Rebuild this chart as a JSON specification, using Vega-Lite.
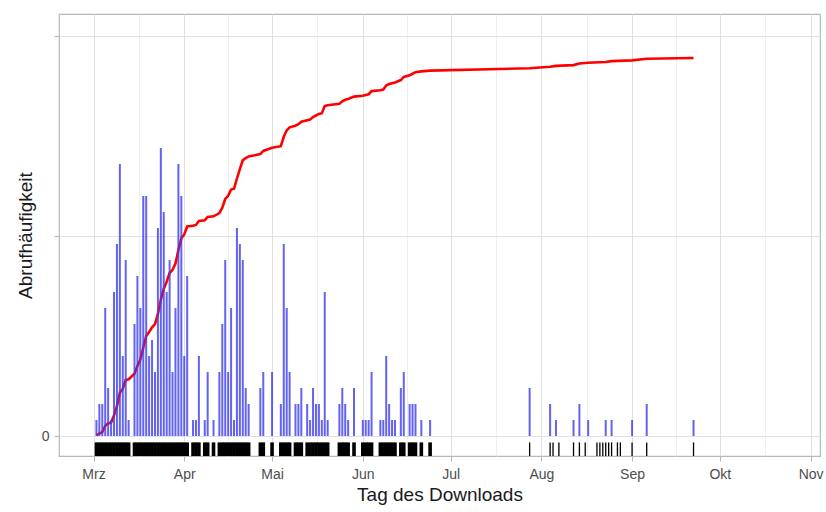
{
  "$schema": "https://vega.github.io/schema/vega-lite/v6.json",
  "width": 761,
  "height": 442,
  "autosize": {"type": "none"},
  "padding": {"left": 59, "top": 14, "right": 6, "bottom": 56},
  "background": "white",
  "config": {
    "font": "Liberation Sans",
    "view": {"stroke": "#b8b8b8", "strokeWidth": 1.2},
    "axis": {
      "labelFont": "Liberation Sans",
      "titleFont": "Liberation Sans",
      "labelColor": "#4d4d4d",
      "titleColor": "#1a1a1a",
      "titleFontWeight": "normal",
      "labelFontSize": 14,
      "titleFontSize": 19,
      "tickColor": "#b3b3b3",
      "tickSize": 5,
      "domain": false,
      "gridColor": "#e0e0e0",
      "gridWidth": 1
    }
  },
  "datasets": {
    "abrufe": [
      {"tag": "2020-03-02", "anzahl": 1}, {"tag": "2020-03-03", "anzahl": 2}, {"tag": "2020-03-04", "anzahl": 2},
      {"tag": "2020-03-05", "anzahl": 8}, {"tag": "2020-03-06", "anzahl": 3}, {"tag": "2020-03-07", "anzahl": 1},
      {"tag": "2020-03-08", "anzahl": 9}, {"tag": "2020-03-09", "anzahl": 12}, {"tag": "2020-03-10", "anzahl": 17},
      {"tag": "2020-03-11", "anzahl": 5}, {"tag": "2020-03-12", "anzahl": 11}, {"tag": "2020-03-13", "anzahl": 1},
      {"tag": "2020-03-15", "anzahl": 7}, {"tag": "2020-03-16", "anzahl": 10}, {"tag": "2020-03-17", "anzahl": 8},
      {"tag": "2020-03-18", "anzahl": 15}, {"tag": "2020-03-19", "anzahl": 15}, {"tag": "2020-03-20", "anzahl": 5},
      {"tag": "2020-03-21", "anzahl": 6}, {"tag": "2020-03-22", "anzahl": 4}, {"tag": "2020-03-23", "anzahl": 13},
      {"tag": "2020-03-24", "anzahl": 18}, {"tag": "2020-03-25", "anzahl": 14}, {"tag": "2020-03-26", "anzahl": 9},
      {"tag": "2020-03-27", "anzahl": 11}, {"tag": "2020-03-28", "anzahl": 4}, {"tag": "2020-03-29", "anzahl": 8},
      {"tag": "2020-03-30", "anzahl": 17}, {"tag": "2020-03-31", "anzahl": 15},
      {"tag": "2020-04-01", "anzahl": 5}, {"tag": "2020-04-02", "anzahl": 10}, {"tag": "2020-04-04", "anzahl": 1},
      {"tag": "2020-04-05", "anzahl": 1}, {"tag": "2020-04-06", "anzahl": 5}, {"tag": "2020-04-08", "anzahl": 1},
      {"tag": "2020-04-09", "anzahl": 4}, {"tag": "2020-04-11", "anzahl": 1}, {"tag": "2020-04-13", "anzahl": 4},
      {"tag": "2020-04-14", "anzahl": 7}, {"tag": "2020-04-15", "anzahl": 11}, {"tag": "2020-04-16", "anzahl": 4},
      {"tag": "2020-04-17", "anzahl": 8}, {"tag": "2020-04-18", "anzahl": 1}, {"tag": "2020-04-19", "anzahl": 13},
      {"tag": "2020-04-20", "anzahl": 12}, {"tag": "2020-04-21", "anzahl": 11}, {"tag": "2020-04-22", "anzahl": 3},
      {"tag": "2020-04-23", "anzahl": 2}, {"tag": "2020-04-27", "anzahl": 3}, {"tag": "2020-04-28", "anzahl": 4},
      {"tag": "2020-05-01", "anzahl": 4}, {"tag": "2020-05-04", "anzahl": 2}, {"tag": "2020-05-05", "anzahl": 12},
      {"tag": "2020-05-06", "anzahl": 8}, {"tag": "2020-05-07", "anzahl": 4}, {"tag": "2020-05-09", "anzahl": 2},
      {"tag": "2020-05-10", "anzahl": 2}, {"tag": "2020-05-11", "anzahl": 3}, {"tag": "2020-05-13", "anzahl": 2},
      {"tag": "2020-05-14", "anzahl": 1}, {"tag": "2020-05-15", "anzahl": 3}, {"tag": "2020-05-16", "anzahl": 2},
      {"tag": "2020-05-17", "anzahl": 2}, {"tag": "2020-05-18", "anzahl": 1}, {"tag": "2020-05-19", "anzahl": 9},
      {"tag": "2020-05-20", "anzahl": 1}, {"tag": "2020-05-24", "anzahl": 2}, {"tag": "2020-05-25", "anzahl": 3},
      {"tag": "2020-05-26", "anzahl": 2}, {"tag": "2020-05-27", "anzahl": 1}, {"tag": "2020-05-29", "anzahl": 3},
      {"tag": "2020-06-01", "anzahl": 1}, {"tag": "2020-06-02", "anzahl": 1}, {"tag": "2020-06-03", "anzahl": 1},
      {"tag": "2020-06-04", "anzahl": 4}, {"tag": "2020-06-07", "anzahl": 1}, {"tag": "2020-06-08", "anzahl": 1},
      {"tag": "2020-06-09", "anzahl": 5}, {"tag": "2020-06-10", "anzahl": 2}, {"tag": "2020-06-11", "anzahl": 1},
      {"tag": "2020-06-12", "anzahl": 1}, {"tag": "2020-06-14", "anzahl": 3}, {"tag": "2020-06-15", "anzahl": 4},
      {"tag": "2020-06-17", "anzahl": 2}, {"tag": "2020-06-18", "anzahl": 2}, {"tag": "2020-06-19", "anzahl": 2},
      {"tag": "2020-06-21", "anzahl": 1}, {"tag": "2020-06-24", "anzahl": 1},
      {"tag": "2020-07-28", "anzahl": 3}, {"tag": "2020-08-04", "anzahl": 2}, {"tag": "2020-08-06", "anzahl": 1},
      {"tag": "2020-08-12", "anzahl": 1}, {"tag": "2020-08-14", "anzahl": 2}, {"tag": "2020-08-17", "anzahl": 1},
      {"tag": "2020-08-23", "anzahl": 1}, {"tag": "2020-08-25", "anzahl": 1}, {"tag": "2020-09-01", "anzahl": 1},
      {"tag": "2020-09-06", "anzahl": 2}, {"tag": "2020-09-22", "anzahl": 1}
    ],
    "rug_spaet": [
      {"tag": "2020-07-28"}, {"tag": "2020-08-04"}, {"tag": "2020-08-05"}, {"tag": "2020-08-07"},
      {"tag": "2020-08-12"}, {"tag": "2020-08-14"}, {"tag": "2020-08-16"}, {"tag": "2020-08-20"},
      {"tag": "2020-08-21"}, {"tag": "2020-08-22"}, {"tag": "2020-08-23"}, {"tag": "2020-08-24"},
      {"tag": "2020-08-25"}, {"tag": "2020-08-27"}, {"tag": "2020-08-28"}, {"tag": "2020-09-01"},
      {"tag": "2020-09-06"}, {"tag": "2020-09-22"}
    ]
  },
  "layer": [
    {
      "data": {"name": "abrufe"},
      "transform": [
        {"window": [{"op": "sum", "field": "anzahl", "as": "kumuliert"}], "sort": [{"field": "tag", "order": "ascending"}], "frame": [null, 0]}
      ],
      "mark": {"type": "line", "color": "#ff0000", "strokeWidth": 2.6},
      "encoding": {
        "x": {
          "field": "tag", "type": "temporal",
          "scale": {"type": "utc", "domain": [{"year": 2020, "month": 2, "date": 18, "hours": 5, "utc": true}, {"year": 2020, "month": 11, "date": 4, "hours": 5, "utc": true}]},
          "axis": {
            "orient": "top", "labels": false, "ticks": false, "title": null, "grid": true, "gridColor": "#ebebeb", "gridWidth": 0.8,
            "values": [
              {"year": 2020, "month": 3, "date": 16, "hours": 12, "utc": true},
              {"year": 2020, "month": 4, "date": 16, "utc": true},
              {"year": 2020, "month": 5, "date": 16, "hours": 12, "utc": true},
              {"year": 2020, "month": 6, "date": 16, "utc": true},
              {"year": 2020, "month": 7, "date": 16, "hours": 12, "utc": true},
              {"year": 2020, "month": 8, "date": 16, "hours": 12, "utc": true},
              {"year": 2020, "month": 9, "date": 16, "utc": true},
              {"year": 2020, "month": 10, "date": 16, "hours": 12, "utc": true}
            ]
          }
        },
        "y": {"field": "kumuliert", "type": "quantitative", "scale": {"domain": [-25.4, 535.9], "nice": false, "zero": false}, "axis": null}
      }
    },
    {
      "data": {"name": "abrufe"},
      "mark": {"type": "rule", "color": "#3c3cf0", "strokeWidth": 2, "opacity": 0.8},
      "encoding": {
        "x": {
          "field": "tag", "type": "temporal",
          "scale": {"type": "utc", "domain": [{"year": 2020, "month": 2, "date": 18, "hours": 5, "utc": true}, {"year": 2020, "month": 11, "date": 4, "hours": 5, "utc": true}]},
          "axis": {
            "orient": "bottom", "title": "Tag des Downloads", "grid": true, "labelPadding": 6, "titlePadding": 4,
            "labelExpr": "['Jan','Feb','Mrz','Apr','Mai','Jun','Jul','Aug','Sep','Okt','Nov','Dez'][utcmonth(datum.value)]",
            "values": [
              {"year": 2020, "month": 3, "date": 1, "utc": true},
              {"year": 2020, "month": 4, "date": 1, "utc": true},
              {"year": 2020, "month": 5, "date": 1, "utc": true},
              {"year": 2020, "month": 6, "date": 1, "utc": true},
              {"year": 2020, "month": 7, "date": 1, "utc": true},
              {"year": 2020, "month": 8, "date": 1, "utc": true},
              {"year": 2020, "month": 9, "date": 1, "utc": true},
              {"year": 2020, "month": 10, "date": 1, "utc": true},
              {"year": 2020, "month": 11, "date": 1, "utc": true}
            ]
          }
        },
        "y": {
          "field": "anzahl", "type": "quantitative",
          "scale": {"domain": [-1.25, 26.375], "nice": false, "zero": false},
          "axis": {"orient": "left", "title": "Abrufhäufigkeit", "values": [0, 12.5, 25], "labelExpr": "datum.value == 0 ? '0' : ''", "grid": true, "labelPadding": 5, "titlePadding": 6}
        },
        "y2": {"datum": 0}
      }
    },
    {
      "data": {"name": "abrufe"},
      "transform": [{"filter": {"field": "tag", "lt": {"year": 2020, "month": 7, "date": 1, "utc": true}}}],
      "mark": {"type": "rule", "color": "#000000", "strokeWidth": 3.6},
      "encoding": {
        "x": {
          "field": "tag", "type": "temporal",
          "scale": {"type": "utc", "domain": [{"year": 2020, "month": 2, "date": 18, "hours": 5, "utc": true}, {"year": 2020, "month": 11, "date": 4, "hours": 5, "utc": true}]},
          "axis": null
        },
        "y": {"datum": -1.25, "type": "quantitative", "scale": {"domain": [-1.25, 26.375], "nice": false, "zero": false}, "axis": null},
        "y2": {"datum": -0.4}
      }
    },
    {
      "data": {"name": "rug_spaet"},
      "mark": {"type": "rule", "color": "#000000", "strokeWidth": 1.3},
      "encoding": {
        "x": {
          "field": "tag", "type": "temporal",
          "scale": {"type": "utc", "domain": [{"year": 2020, "month": 2, "date": 18, "hours": 5, "utc": true}, {"year": 2020, "month": 11, "date": 4, "hours": 5, "utc": true}]},
          "axis": null
        },
        "y": {"datum": -1.25, "type": "quantitative", "scale": {"domain": [-1.25, 26.375], "nice": false, "zero": false}, "axis": null},
        "y2": {"datum": -0.4}
      }
    }
  ],
  "resolve": {"scale": {"y": "independent"}, "axis": {"x": "independent"}}
}
